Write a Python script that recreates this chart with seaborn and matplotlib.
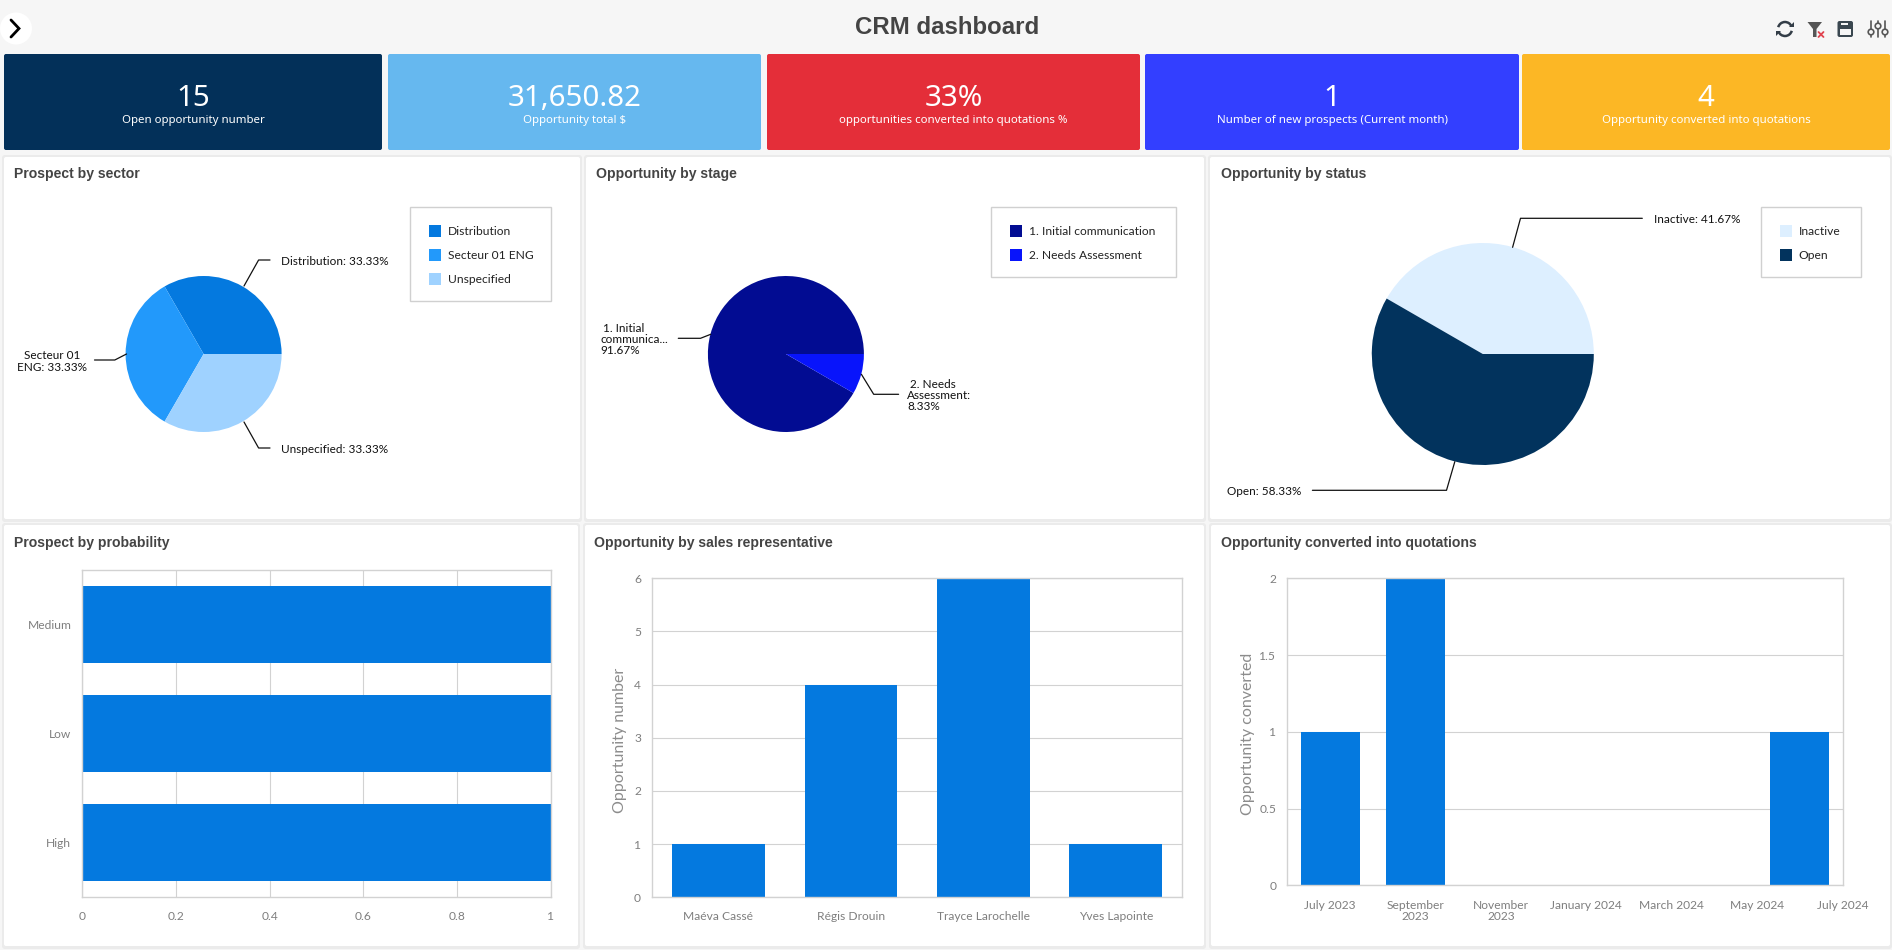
"""
plot.py
CRM dashboard: KPI cards, three pies and three bar panels.
"""

import matplotlib
matplotlib.use("Agg")
import matplotlib.pyplot as plt
from matplotlib.patches import Circle, FancyBboxPatch, Polygon, Rectangle, Arc
import seaborn as sns

# KPI cards
kpi_values = ["15", "31,650.82", "33%", "1", "4"]
kpi_labels = ["Open opportunity number", "Opportunity total $",
              "opportunities converted into quotations %",
              "Number of new prospects (Current month)",
              "Opportunity converted into quotations"]
kpi_colors = ["#033059", "#66B8EF", "#E42E39", "#333FFF", "#FCB725"]

# Pies
sector_names = ["Distribution", "Secteur 01 ENG", "Unspecified"]
sector_values = [33.33, 33.33, 33.33]
sector_colors = ["#0479DF", "#2299FB", "#9FD2FF"]

stage_names = ["1. Initial communication", "2. Needs Assessment"]
stage_values = [91.67, 8.33]
stage_colors = ["#020C92", "#0814FB"]

status_names = ["Inactive", "Open"]
status_values = [41.67, 58.33]
status_colors = ["#DDEFFF", "#02335D"]

# Bars
probability_names = ["Medium", "Low", "High"]
probability_values = [1, 1, 1]
probability_ticks = [0, 0.2, 0.4, 0.6, 0.8, 1]
probability_ticklabels = ["0", "0.2", "0.4", "0.6", "0.8", "1"]

rep_names = ["Maéva Cassé", "Régis Drouin", "Trayce Larochelle", "Yves Lapointe"]
rep_values = [1, 4, 6, 1]
rep_ticks = [0, 1, 2, 3, 4, 5, 6]

# months counted from July 2023
converted_months = [0, 2, 11]
converted_values = [1, 2, 1]
month_ticks = [0, 2, 4, 6, 8, 10, 12]
month_ticklabels = ["July 2023", "September\n2023", "November\n2023", "January 2024",
                    "March 2024", "May 2024", "July 2024"]
converted_ticks = [0, 0.5, 1, 1.5, 2]
converted_ticklabels = ["0", "0.5", "1", "1.5", "2"]

BAR_BLUE = "#0479DF"
GRID = "#D2D2D2"
TICK_GRAY = "#7E7E7E"
TITLE_GRAY = "#444444"
W, H = 1892, 950


def px(size):
    return size * 0.72


sns.set_theme(style="white")
plt.rcParams["font.family"] = ["Lato", "DejaVu Sans"]

fig = plt.figure(figsize=(W / 100, H / 100), dpi=100, facecolor="#F6F6F6")


def ax_px(x0, y0, x1, y1, **kw):
    return fig.add_axes([x0 / W, 1 - y1 / H, (x1 - x0) / W, (y1 - y0) / H], **kw)


# Background layer: cards and panels in pixel coordinates
bg = ax_px(0, 0, W, H, zorder=0)
bg.set_xlim(0, W)
bg.set_ylim(H, 0)
bg.axis("off")

# Foreground layer: texts, legends, leader lines
fg = ax_px(0, 0, W, H, zorder=5)
fg.set_xlim(0, W)
fg.set_ylim(H, 0)
fg.axis("off")
fg.patch.set_alpha(0)


def box(ax, x0, y0, x1, y1, color, rounding=2, **kw):
    ax.add_patch(FancyBboxPatch((x0 + rounding, y0 + rounding), x1 - x0 - 2 * rounding,
                                y1 - y0 - 2 * rounding,
                                boxstyle=f"round,pad={rounding},rounding_size={rounding}",
                                fc=color, ec="none", **kw))


# Header
fg.text(947, 28, "CRM dashboard", family="Liberation Sans", weight="bold",
        fontsize=px(24), color=TITLE_GRAY, ha="center", va="center")
bg.add_patch(Circle((16, 28.5), 16, fc="white", ec="none"))
fg.plot([11, 19, 11], [20, 28.5, 37], color="black", lw=2, solid_joinstyle="miter")

# refresh icon
fg.add_patch(Arc((1785, 29), 14, 14, theta1=195, theta2=340, color="#333D47", lw=1.8))
fg.add_patch(Arc((1785, 29), 14, 14, theta1=15, theta2=160, color="#333D47", lw=1.8))
fg.add_patch(Polygon([[1789, 27], [1794, 22], [1794, 27]], fc="#333D47", ec="none"))
fg.add_patch(Polygon([[1781, 31], [1776, 36], [1776, 31]], fc="#333D47", ec="none"))
# clear filter icon
fg.add_patch(Polygon([[1807.5, 22], [1822, 22], [1816.5, 29], [1816.5, 37], [1813, 37], [1813, 29]],
                     fc="#555555", ec="none"))
fg.plot([1818.5, 1823.5], [32, 37], color="#E0424E", lw=1.3)
fg.plot([1818.5, 1823.5], [37, 32], color="#E0424E", lw=1.3)
# save icon
box(fg, 1837.5, 21, 1853, 37, "#3A4750", rounding=2)
fg.add_patch(Rectangle((1841, 22.5), 7, 2.8, fc="#F6F6F6", ec="none"))
fg.add_patch(Rectangle((1840, 29), 11, 6, fc="#F6F6F6", ec="none"))
# settings icon
for sx, sy in zip([1871, 1878, 1885], [32, 26, 32]):
    fg.plot([sx, sx], [21, 37], color="#555555", lw=1.2)
    fg.add_patch(Circle((sx, sy), 2.8, fc="#F6F6F6", ec="#555555", lw=1.2, zorder=6))

# KPI cards
card_edges = [(4, 382), (388, 761), (767, 1140), (1145, 1519), (1522, 1890)]
for (x0, x1), color, value, label in zip(card_edges, kpi_colors, kpi_values, kpi_labels):
    box(bg, x0, 54, x1, 150, color)
    fg.text((x0 + x1) / 2, 98, value, family="Noto Sans", color="white", fontsize=px(29.5),
            ha="center", va="center")
    fg.text((x0 + x1) / 2, 120.5, label, family="Noto Sans", color="white", fontsize=px(11.5),
            ha="center", va="center")

# Panels with a soft shadow
panel_boxes = [(4, 157, 580, 519), (586, 157, 1204, 519), (1210, 157, 1890, 519),
               (4, 525, 578, 946), (585, 525, 1204, 946), (1211, 525, 1890, 946)]
panel_titles = ["Prospect by sector", "Opportunity by stage", "Opportunity by status",
                "Prospect by probability", "Opportunity by sales representative",
                "Opportunity converted into quotations"]
title_x = [14, 596, 1221, 14, 594, 1221]
title_y = [174, 174, 174, 543, 543, 543]
for (x0, y0, x1, y1), title, tx, ty in zip(panel_boxes, panel_titles, title_x, title_y):
    box(bg, x0 - 2, y0 - 2, x1 + 2, y1 + 3, "#EBEBEB", rounding=3)
    box(bg, x0, y0, x1, y1, "white", rounding=2)
    fg.text(tx, ty, title, family="Liberation Sans", weight="bold", fontsize=px(14),
            color=TITLE_GRAY, ha="left", va="center")


def pie(cx, cy, r, values, colors):
    # matplotlib keeps pies inside +-1.25 radius
    ax = ax_px(cx - 1.25 * r, cy - 1.25 * r, cx + 1.25 * r, cy + 1.25 * r, zorder=2)
    ax.pie(values, colors=colors, startangle=0, counterclock=True,
           wedgeprops={"linewidth": 0})
    ax.patch.set_alpha(0)
    return ax


def legend(x0, y0, x1, y1, names, colors):
    fg.add_patch(Rectangle((x0, y0), x1 - x0, y1 - y0, fc="white", ec="#D0D0D0", lw=1))
    for i, (name, color) in enumerate(zip(names, colors)):
        row = y0 + 24 + i * 24
        fg.add_patch(Rectangle((x0 + 19.5, row - 6), 12, 12, fc=color, ec="none"))
        fg.text(x0 + 38, row + 0.3, name, fontsize=px(12), color="#222222", ha="left", va="center")


def leader(points, label, tx, ty, ha="left"):
    xs, ys = zip(*points)
    fg.plot(xs, ys, color="#111111", lw=0.9)
    fg.text(tx, ty, label, fontsize=px(11.7), color="#111111", ha=ha, va="center", linespacing=1.05,
            multialignment="center" if ha == "center" else "left")


# Prospect by sector
pie(203.6, 354, 78, sector_values, sector_colors)
legend(409.5, 207, 550.5, 300.5, sector_names, sector_colors)
leader([(244, 286), (258.6, 260), (270, 260)], f"{sector_names[0]}: {sector_values[0]:.2f}%", 281, 261.5)
leader([(126.5, 354), (114.8, 360), (94.5, 360)], f"Secteur 01\nENG: {sector_values[1]:.2f}%", 52, 361.5, ha="center")
leader([(244, 422), (258.6, 448), (270, 448)], f"{sector_names[2]}: {sector_values[2]:.2f}%", 281, 449.5)

# Opportunity by stage
pie(785.9, 354, 78, stage_values, stage_colors)
legend(990.5, 207, 1175.5, 276.5, stage_names, stage_colors)
leader([(710.7, 334.3), (700.5, 338.3), (678.3, 338.3)], f" 1. Initial\ncommunica...\n{stage_values[0]:.2f}%", 600, 339.5)
leader([(861.4, 374.3), (873.7, 394.3), (898.6, 394.3)], f" 2. Needs\nAssessment:\n{stage_values[1]:.2f}%", 907.3, 395.5)

# Opportunity by status
pie(1482.8, 354, 111, status_values, status_colors)
legend(1760.5, 207, 1860.5, 276.5, status_names, status_colors)
leader([(1512.6, 247.3), (1520.5, 218.3), (1642.3, 218.3)], f"{status_names[0]}: {status_values[0]:.2f}%", 1653.5, 219.5)
leader([(1454.8, 461.7), (1446.5, 490.3), (1312.4, 490.3)], f"{status_names[1]}: {status_values[1]:.2f}%", 1227.3, 491.5)


def style_axes(ax, grid_axis):
    ax.set_facecolor("white")
    ax.grid(True, axis=grid_axis, color=GRID, lw=0.8)
    ax.set_axisbelow(True)
    for side in ax.spines.values():
        side.set_visible(True)
        side.set_color(GRID)
        side.set_linewidth(1)
    ax.set_xlabel("")
    ax.set_ylabel("")


# Prospect by probability
ax = ax_px(82.4, 570.3, 550.6, 897.3, zorder=2)
sns.barplot(x=probability_values, y=probability_names, orient="h", color=BAR_BLUE,
            saturation=1, width=0.705, linewidth=0, ax=ax)
style_axes(ax, "x")
ax.set_xlim(0, 1)
ax.set_xticks(probability_ticks, probability_ticklabels)
ax.tick_params(axis="both", length=0, labelsize=px(12), labelcolor=TICK_GRAY)
ax.tick_params(axis="x", pad=10.2)
ax.tick_params(axis="y", pad=8)

# Opportunity by sales representative
ax = ax_px(652.2, 578.3, 1182, 897.3, zorder=2)
sns.barplot(x=rep_names, y=rep_values, color=BAR_BLUE, saturation=1, width=0.7,
            linewidth=0, ax=ax)
style_axes(ax, "y")
ax.set_ylim(0, 6)
ax.set_yticks(rep_ticks)
ax.tick_params(axis="both", length=0, labelsize=px(12), labelcolor=TICK_GRAY)
ax.tick_params(axis="x", pad=10.2)
ax.tick_params(axis="y", pad=8)
fg.text(619.6, 740, "Opportunity number", rotation=90, fontsize=px(16), color="#8C8C8C",
        ha="center", va="center")

# Opportunity converted into quotations
ax = ax_px(1287.4, 578.3, 1842.6, 885.3, zorder=2)
sns.barplot(x=converted_months, y=converted_values, native_scale=True, color=BAR_BLUE,
            saturation=1, width=0.69, linewidth=0, ax=ax)
style_axes(ax, "y")
ax.set_xlim(-1, 12)
ax.set_ylim(0, 2)
ax.set_xticks(month_ticks, month_ticklabels, linespacing=1.05)
ax.set_yticks(converted_ticks, converted_ticklabels)
ax.tick_params(axis="both", length=0, labelsize=px(12), labelcolor=TICK_GRAY)
ax.tick_params(axis="x", pad=10.5)
ax.tick_params(axis="y", pad=8)
fg.text(1247.5, 734, "Opportunity converted", rotation=90, fontsize=px(16), color="#8C8C8C",
        ha="center", va="center")

fig.savefig("out.png", dpi=100, facecolor=fig.get_facecolor())
